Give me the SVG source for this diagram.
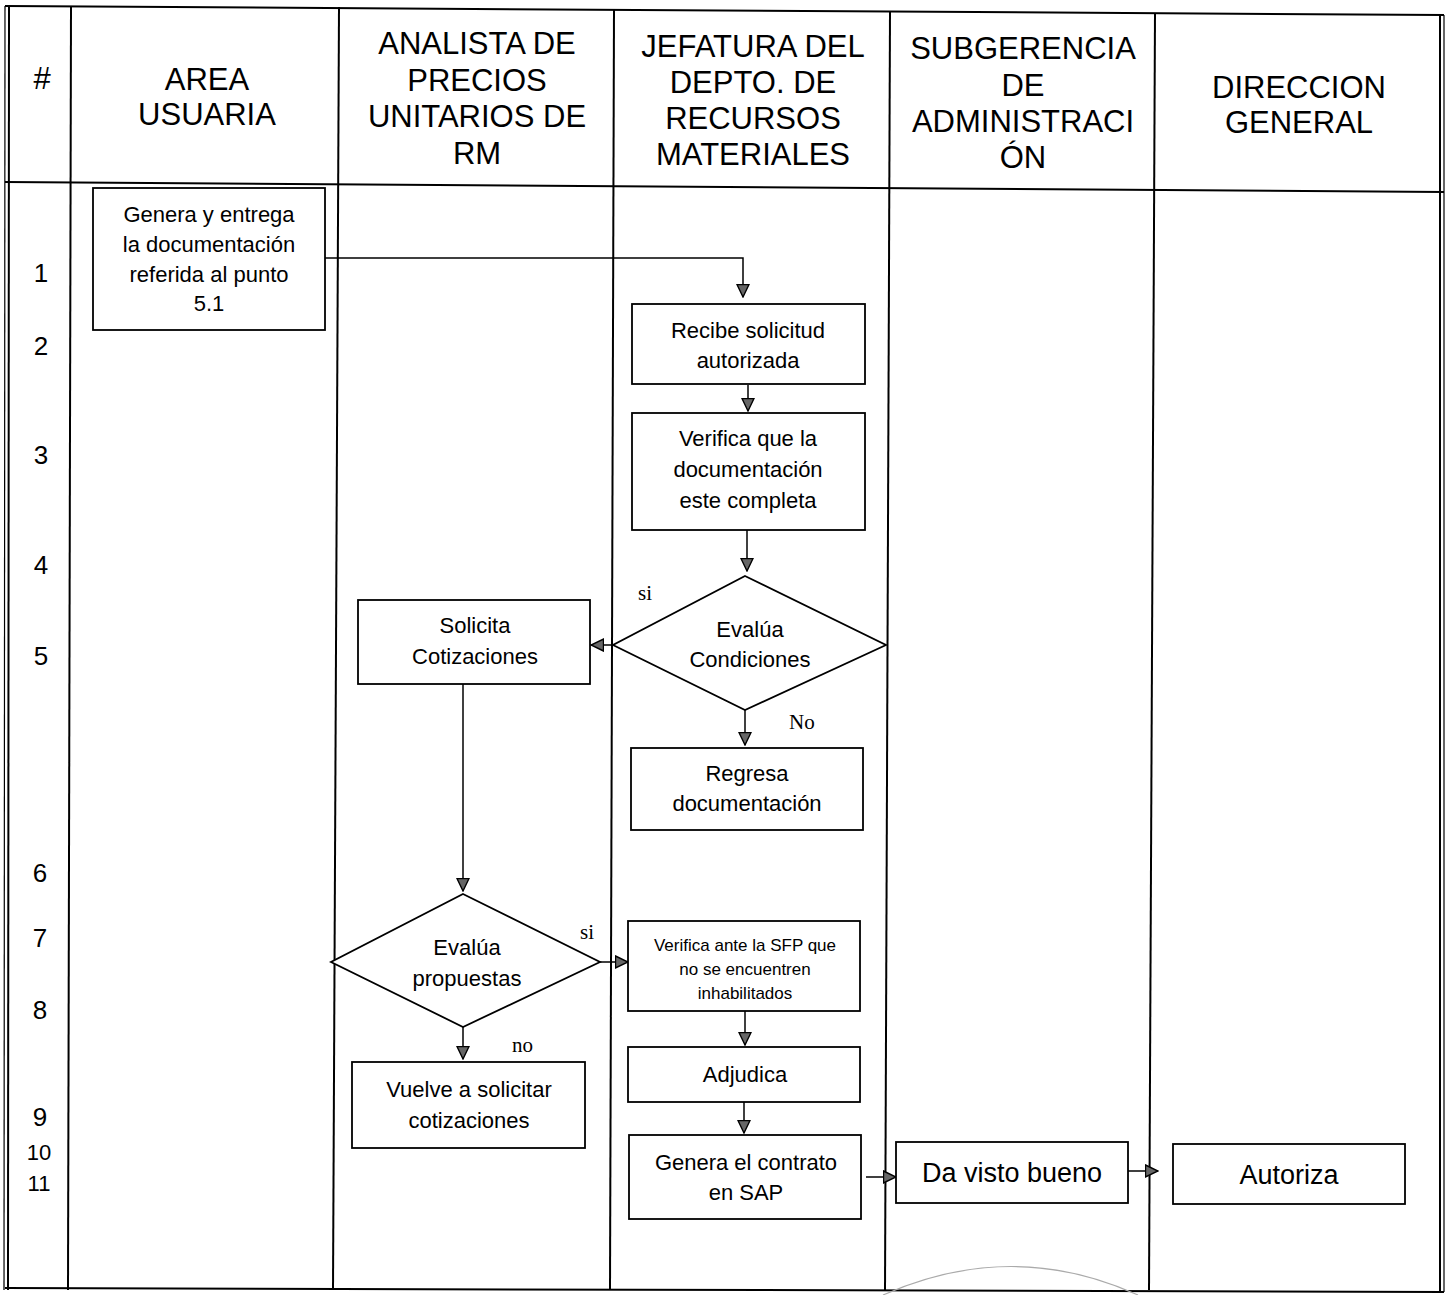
<svg xmlns="http://www.w3.org/2000/svg" width="1446" height="1295" viewBox="0 0 1446 1295">
<style>
.grid{stroke:#000;stroke-width:2;fill:none}
.thin{stroke:#000;stroke-width:1.2;fill:none}
.box{fill:#fff;stroke:#000;stroke-width:1.8}
.hd{font-family:"Liberation Sans",Arial,sans-serif;font-size:31px;fill:#000;text-anchor:middle}
.num{font-family:"Liberation Sans",Arial,sans-serif;font-size:26px;fill:#000;text-anchor:middle}
.num2{font-family:"Liberation Sans",Arial,sans-serif;font-size:22px;fill:#000;text-anchor:middle}
.t{font-family:"Liberation Sans",Arial,sans-serif;font-size:22px;fill:#000;text-anchor:middle}
.ts{font-family:"Liberation Sans",Arial,sans-serif;font-size:17px;fill:#000;text-anchor:middle}
.tl{font-family:"Liberation Sans",Arial,sans-serif;font-size:27px;fill:#000;text-anchor:middle}
.lb{font-family:"Liberation Serif","Times New Roman",serif;font-size:21px;fill:#000}
.cn{stroke:#000;stroke-width:1.5;fill:none;marker-end:url(#ah)}
</style>
<defs>
<marker id="ah" viewBox="0 0 14 14" refX="13" refY="7" markerWidth="14" markerHeight="14" markerUnits="userSpaceOnUse" orient="auto">
<path d="M0.5,1 L13,7 L0.5,13 Z" fill="#666" stroke="#000" stroke-width="1.4"/>
</marker>
</defs>
<rect width="1446" height="1295" fill="#fff"/>

<g id="grid">
<line class="grid" x1="5" y1="6" x2="1444" y2="15"/>
<line class="grid" x1="5" y1="182" x2="1444" y2="192"/>
<line class="grid" x1="5" y1="1288" x2="1444" y2="1292"/>
<line class="thin" x1="5" y1="6" x2="4" y2="1290"/>
<line class="grid" x1="9" y1="6" x2="8" y2="1290"/>
<line class="grid" x1="71" y1="6" x2="68" y2="1290"/>
<line class="grid" x1="339" y1="7" x2="333" y2="1290"/>
<line class="grid" x1="614" y1="9" x2="610" y2="1290"/>
<line class="grid" x1="890" y1="12" x2="885" y2="1290"/>
<line class="grid" x1="1155" y1="13" x2="1149" y2="1290"/>
<line class="grid" x1="1440" y1="15" x2="1440" y2="1292"/>
<line class="thin" x1="1444" y1="15" x2="1444" y2="1292"/>
</g>

<g id="header">
<text class="hd" x="42" y="89">#</text>
<text class="hd" x="207" y="90">AREA</text>
<text class="hd" x="207" y="125">USUARIA</text>
<text class="hd" x="477" y="54">ANALISTA DE</text>
<text class="hd" x="477" y="91">PRECIOS</text>
<text class="hd" x="477" y="127">UNITARIOS DE</text>
<text class="hd" x="477" y="164">RM</text>
<text class="hd" x="753" y="57">JEFATURA DEL</text>
<text class="hd" x="753" y="93">DEPTO. DE</text>
<text class="hd" x="753" y="129">RECURSOS</text>
<text class="hd" x="753" y="165">MATERIALES</text>
<text class="hd" x="1023" y="59">SUBGERENCIA</text>
<text class="hd" x="1023" y="96">DE</text>
<text class="hd" x="1023" y="132">ADMINISTRACI</text>
<text class="hd" x="1023" y="168">ÓN</text>
<text class="hd" x="1299" y="98">DIRECCION</text>
<text class="hd" x="1299" y="133">GENERAL</text>
</g>

<g id="rownumbers">
<text class="num" x="41" y="282">1</text>
<text class="num" x="41" y="355">2</text>
<text class="num" x="41" y="464">3</text>
<text class="num" x="41" y="574">4</text>
<text class="num" x="41" y="665">5</text>
<text class="num" x="40" y="882">6</text>
<text class="num" x="40" y="947">7</text>
<text class="num" x="40" y="1019">8</text>
<text class="num" x="40" y="1126">9</text>
<text class="num2" x="39" y="1160">10</text>
<text class="num2" x="39" y="1191">11</text>
</g>

<g id="connectors">
<path class="cn" d="M325,258 H743 V297"/>
<path class="cn" d="M748,385 V411"/>
<path class="cn" d="M747,530 V571"/>
<path class="cn" d="M613,645 H591"/>
<path class="cn" d="M745,710 V745"/>
<path class="cn" d="M463,684 V891"/>
<path class="cn" d="M600,962 H628"/>
<path class="cn" d="M463,1027 V1059"/>
<path class="cn" d="M745,1011 V1045"/>
<path class="cn" d="M744,1102 V1133"/>
<path class="cn" d="M866,1177 H896"/>
<path class="cn" d="M1128,1171 H1158"/>
<text class="lb" x="638" y="600">si</text>
<text class="lb" x="789" y="729">No</text>
<text class="lb" x="580" y="939">si</text>
<text class="lb" x="512" y="1052">no</text>
</g>

<g id="n1">
<rect class="box" x="93" y="188" width="232" height="142"/>
<text class="t" x="209" y="222">Genera y entrega</text>
<text class="t" x="209" y="252">la documentación</text>
<text class="t" x="209" y="282">referida al punto</text>
<text class="t" x="209" y="311">5.1</text>
</g>
<g id="n2">
<rect class="box" x="632" y="304" width="233" height="80"/>
<text class="t" x="748" y="338">Recibe solicitud</text>
<text class="t" x="748" y="368">autorizada</text>
</g>
<g id="n3">
<rect class="box" x="632" y="413" width="233" height="117"/>
<text class="t" x="748" y="446">Verifica que la</text>
<text class="t" x="748" y="477">documentación</text>
<text class="t" x="748" y="508">este completa</text>
</g>
<g id="n4">
<polygon class="box" points="745,576 886,645 745,710 613,645"/>
<text class="t" x="750" y="637">Evalúa</text>
<text class="t" x="750" y="667">Condiciones</text>
</g>
<g id="n5">
<rect class="box" x="358" y="600" width="232" height="84"/>
<text class="t" x="475" y="633">Solicita</text>
<text class="t" x="475" y="664">Cotizaciones</text>
</g>
<g id="n6">
<rect class="box" x="631" y="748" width="232" height="82"/>
<text class="t" x="747" y="781">Regresa</text>
<text class="t" x="747" y="811">documentación</text>
</g>
<g id="n7">
<polygon class="box" points="463,894 600,962 463,1027 331,962"/>
<text class="t" x="467" y="955">Evalúa</text>
<text class="t" x="467" y="986">propuestas</text>
</g>
<g id="n8">
<rect class="box" x="628" y="921" width="232" height="90"/>
<text class="ts" x="745" y="951">Verifica ante la SFP que</text>
<text class="ts" x="745" y="975">no se encuentren</text>
<text class="ts" x="745" y="999">inhabilitados</text>
</g>
<g id="n9">
<rect class="box" x="352" y="1062" width="233" height="86"/>
<text class="t" x="469" y="1097">Vuelve a solicitar</text>
<text class="t" x="469" y="1128">cotizaciones</text>
</g>
<g id="n10">
<rect class="box" x="628" y="1047" width="232" height="55"/>
<text class="t" x="745" y="1082">Adjudica</text>
</g>
<g id="n11">
<rect class="box" x="629" y="1135" width="232" height="84"/>
<text class="t" x="746" y="1170">Genera el contrato</text>
<text class="t" x="746" y="1200">en SAP</text>
</g>
<g id="n12">
<rect class="box" x="896" y="1142" width="232" height="61"/>
<text class="tl" x="1012" y="1182">Da visto bueno</text>
</g>
<g id="n13">
<rect class="box" x="1173" y="1144" width="232" height="60"/>
<text class="tl" x="1289" y="1184">Autoriza</text>
</g>

<path d="M883,1295 Q1012,1238 1138,1295" fill="none" stroke="#aaa" stroke-width="1.2"/>
</svg>
